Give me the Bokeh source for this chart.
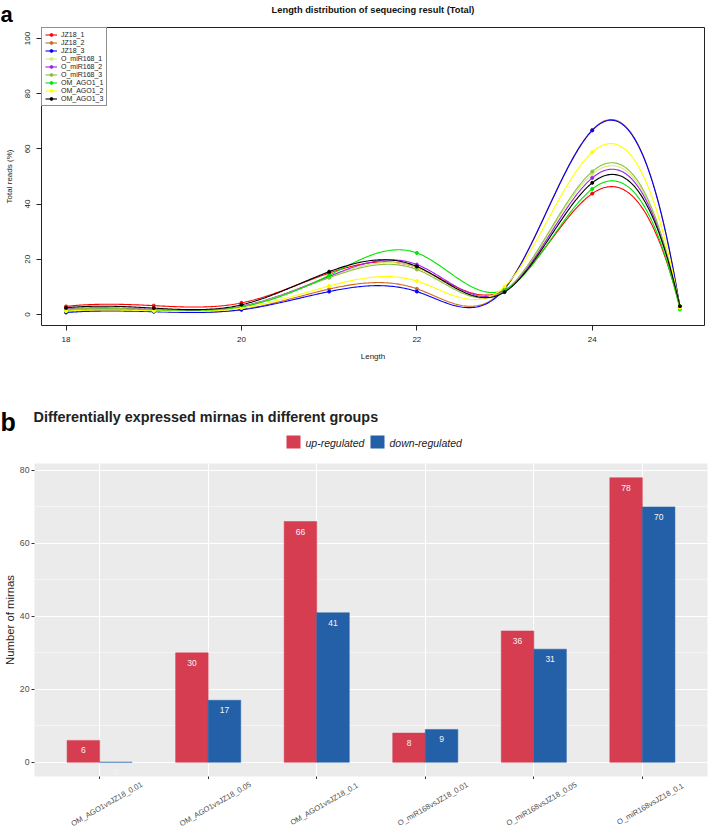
import math
import numpy as np
from bokeh.plotting import figure
from bokeh.layouts import column
from bokeh.models import (Range1d, FixedTicker, Legend, LegendItem, Label, LabelSet,
                          ColumnDataSource, FactorRange, SingleIntervalTicker)
from bokeh.transform import dodge
from bokeh.core.properties import value
from bokeh.embed import file_html
from bokeh.resources import INLINE

# ---------------- panel a data ----------------
lengths = [18, 19, 20, 21, 22, 23, 24, 25]
sample_names = ["JZ18_1", "JZ18_2", "JZ18_3", "O_miR168_1", "O_miR168_2",
                "O_miR168_3", "OM_AGO1_1", "OM_AGO1_2", "OM_AGO1_3"]
jz18_1 = [2.9, 3.2, 4.2, 15.0, 17.0, 8.8, 43.8, 2.6]
jz18_2 = [1.0, 1.2, 1.8, 9.2, 9.3, 9.5, 66.9, 2.6]
jz18_3 = [0.7, 1.0, 1.7, 8.3, 8.3, 9.3, 66.7, 2.6]
o_mir168_1 = [1.6, 1.5, 2.8, 13.6, 17.0, 8.6, 50.8, 2.3]
o_mir168_2 = [2.0, 1.8, 3.0, 13.8, 18.1, 8.4, 49.5, 2.5]
o_mir168_3 = [1.8, 1.7, 2.9, 13.3, 16.3, 8.5, 51.8, 2.4]
om_ago1_1 = [1.3, 1.4, 2.7, 14.2, 22.3, 8.9, 45.5, 1.8]
om_ago1_2 = [1.2, 1.3, 2.3, 10.3, 12.1, 10.1, 58.8, 2.4]
om_ago1_3 = [2.4, 2.3, 3.5, 15.5, 17.4, 8.1, 47.7, 3.0]
sample_colors = ["#FF0000", "#CD6A1E", "#0000FF", "#D2EE78", "#A020F0",
                 "#8DBE3C", "#00E600", "#FFFF00", "#000000"]
x_ticks_a = [18, 20, 22, 24]
y_ticks_a = [0, 20, 40, 60, 80, 100]
title_a = "Length distribution of sequecing result (Total)"

# ---------------- panel b data ----------------
groups = ["OM_AGO1vsJZ18_0.01", "OM_AGO1vsJZ18_0.05", "OM_AGO1vsJZ18_0.1",
          "O_miR168vsJZ18_0.01", "O_miR168vsJZ18_0.05", "O_miR168vsJZ18_0.1"]
up_regulated = [6, 30, 66, 8, 36, 78]
down_regulated = [0, 17, 41, 9, 31, 70]
regulation = ["up-regulated", "down-regulated"]
up_color = "#D63D51"
down_color = "#2360A8"
title_b = "Differentially expressed mirnas in different groups"

FONT = "Liberation Sans"
W = 709


def fmm_spline(xs, ys, n=400):
    """Cubic interpolating spline (Forsythe-Malcolm-Moler end conditions), as R's spline()."""
    x = np.asarray(xs, float)
    y = np.asarray(ys, float)
    m = len(x)
    h = np.diff(x)
    A = np.zeros((m, m))
    r = np.zeros(m)
    for i in range(1, m - 1):
        A[i, i - 1] = h[i - 1]
        A[i, i] = 2 * (h[i - 1] + h[i])
        A[i, i + 1] = h[i]
        r[i] = 6 * ((y[i + 1] - y[i]) / h[i] - (y[i] - y[i - 1]) / h[i - 1])

    def dd3(xx, yy):
        d1 = np.diff(yy) / np.diff(xx)
        d2 = np.diff(d1) / (xx[2:] - xx[:-2])
        d3 = np.diff(d2) / (xx[3:] - xx[:-3])
        return d3[0]
    A[0, 0] = -1.0
    A[0, 1] = 1.0
    r[0] = 6 * h[0] * dd3(x[:4], y[:4])
    A[-1, -2] = -1.0
    A[-1, -1] = 1.0
    r[-1] = 6 * h[-1] * dd3(x[-4:], y[-4:])
    M = np.linalg.solve(A, r)
    t = np.linspace(x[0], x[-1], n)
    idx = np.clip(np.searchsorted(x, t, side="right") - 1, 0, m - 2)
    hh = h[idx]
    a = (x[idx + 1] - t) / hh
    b = (t - x[idx]) / hh
    s = a * y[idx] + b * y[idx + 1] + ((a ** 3 - a) * M[idx] + (b ** 3 - b) * M[idx + 1]) * hh ** 2 / 6
    return t, s


def strip(height, x_range=None, y_range=None, left=0, right=0):
    """Axis-less strip used for headings and rotated category labels."""
    f = figure(width=W, height=height,
               x_range=x_range if x_range is not None else Range1d(0, W),
               y_range=y_range if y_range is not None else Range1d(height, 0),
               x_axis_location=None, y_axis_location=None,
               output_backend="svg", toolbar_location=None, frame_align=False,
               min_border_left=left, min_border_right=right, min_border_top=0, min_border_bottom=0)
    f.grid.visible = False
    f.outline_line_color = None
    return f


# ================= heading a =================
hA = strip(26)
hA.add_layout(Label(x=0, y=14, text="a", text_font=FONT, text_font_size="22px",
                    text_font_style="bold", text_baseline="alphabetic", text_color="#000000"))
hA.add_layout(Label(x=372.5, y=9, text=title_a, text_font=FONT, text_font_size="9.3px",
                    text_font_style="bold", text_align="center", text_baseline="middle",
                    text_color="#111111"))

# ================= figure a =================
p1 = figure(width=W, height=352, x_range=Range1d(17.72, 25.28), y_range=Range1d(-4, 104),
            output_backend="svg", toolbar_location=None, frame_align=False,
            min_border_left=41, min_border_right=5, min_border_top=1, min_border_bottom=53)
p1.grid.visible = False
p1.outline_line_color = "#222222"
p1.outline_line_width = 1
p1.outline_line_alpha = 1

p1.xaxis.ticker = FixedTicker(ticks=x_ticks_a)
p1.yaxis.ticker = FixedTicker(ticks=y_ticks_a)
p1.xaxis.axis_label = "Length"
p1.yaxis.axis_label = "Total reads (%)"
for ax in (p1.xaxis, p1.yaxis):
    ax.axis_line_color = None
    ax.minor_tick_line_color = None
    ax.major_tick_out = 5
    ax.major_tick_in = 0
    ax.major_tick_line_color = "#222222"
    ax.major_label_text_font = FONT
    ax.major_label_text_font_size = "8px"
    ax.major_label_text_color = "#222222"
    ax.axis_label_text_font = FONT
    ax.axis_label_text_font_size = "8px"
    ax.axis_label_text_font_style = "normal"
    ax.axis_label_text_color = "#222222"
p1.xaxis.major_label_standoff = 6
p1.xaxis.axis_label_standoff = 7
p1.yaxis.major_label_orientation = "vertical"
p1.yaxis.major_label_standoff = 6
p1.yaxis.axis_label_standoff = 9

series_a = [jz18_1, jz18_2, jz18_3, o_mir168_1, o_mir168_2, o_mir168_3,
            om_ago1_1, om_ago1_2, om_ago1_3]
legend_items = []
for name, vals, col in zip(sample_names, series_a, sample_colors):
    xs, ys = fmm_spline(lengths, vals)
    ln = p1.line(xs, ys, line_color=col, line_width=1.1)
    sc = p1.scatter(lengths, vals, size=3, fill_color=col, line_color=col)
    legend_items.append(LegendItem(label=name, renderers=[ln, sc]))

leg1 = Legend(items=legend_items, location="top_left", margin=0, padding=3, spacing=1,
              label_height=7, glyph_height=7, glyph_width=12, label_standoff=4,
              label_text_font=FONT, label_text_font_size="7px", label_text_color="#222222",
              border_line_color="#222222", border_line_width=1, background_fill_alpha=1)
p1.add_layout(leg1)

# ================= heading b (title and key) =================
hB = strip(85)
hB.add_layout(Label(x=0, y=43, text="b", text_font=FONT, text_font_size="25px",
                    text_font_style="bold", text_baseline="alphabetic", text_color="#000000"))
hB.add_layout(Label(x=33, y=38, text=title_b, text_font=FONT, text_font_size="14.4px",
                    text_font_style="bold", text_baseline="alphabetic", text_color="#222222"))
key_left = [286, 370]
for kx, label, col in zip(key_left, regulation, [up_color, down_color]):
    hB.quad(left=kx, right=kx + 14, top=57, bottom=70, fill_color=col, line_color=None)
    hB.add_layout(Label(x=kx + 19, y=64, text=label, text_font=FONT, text_font_size="10.5px",
                        text_font_style="italic", text_baseline="middle", text_color="#222222"))

# ================= figure b =================
p2 = figure(width=W, height=316,
            x_range=FactorRange(*groups, range_padding=0.1, range_padding_units="absolute"),
            y_range=Range1d(-3.9, 81.9),
            output_backend="svg", toolbar_location=None, frame_align=False,
            min_border_left=33, min_border_right=2, min_border_top=0, min_border_bottom=3)
p2.background_fill_color = "#EBEBEB"
p2.outline_line_color = None

src = ColumnDataSource(dict(
    groups=groups, up=up_regulated, down=down_regulated,
    up_text=[str(v) for v in up_regulated],
    down_text=[str(v) for v in down_regulated]))

r_up = p2.vbar(x=dodge("groups", -0.15, range=p2.x_range), top="up", width=0.3, source=src,
               fill_color=up_color, line_color=up_color, line_width=0.5)
r_down = p2.vbar(x=dodge("groups", 0.15, range=p2.x_range), top="down", width=0.3, source=src,
                 fill_color=down_color, line_color=down_color, line_width=0.5)

for key, txt, off in (("up", "up_text", -0.15), ("down", "down_text", 0.15)):
    p2.add_layout(LabelSet(x=dodge("groups", off, range=p2.x_range), y=key, text=txt, source=src,
                           y_offset=-10, text_align="center", text_baseline="middle",
                           text_font=value(FONT), text_font_size="8.5px", text_color="#F4F4F4"))

p2.yaxis.ticker = SingleIntervalTicker(interval=20, num_minor_ticks=2)
p2.ygrid.grid_line_color = "white"
p2.ygrid.grid_line_width = 1.1
p2.ygrid.minor_grid_line_color = "white"
p2.ygrid.minor_grid_line_width = 0.5
p2.xgrid.grid_line_color = "white"
p2.xgrid.grid_line_width = 1.1
for ax in (p2.xaxis, p2.yaxis):
    ax.axis_line_color = None
    ax.minor_tick_line_color = None
    ax.major_tick_out = 3
    ax.major_tick_in = 0
    ax.major_tick_line_color = "#333333"
p2.xaxis.major_label_text_font_size = "0px"
p2.xaxis.major_label_text_color = None
p2.xaxis.major_label_standoff = 0
p2.yaxis.major_label_text_font = FONT
p2.yaxis.major_label_text_font_size = "8.7px"
p2.yaxis.major_label_text_color = "#4D4D4D"
p2.yaxis.major_label_standoff = 1
p2.yaxis.axis_label = "Number of mirnas"
p2.yaxis.axis_label_text_font = FONT
p2.yaxis.axis_label_text_font_size = "11.3px"
p2.yaxis.axis_label_text_font_style = "normal"
p2.yaxis.axis_label_text_color = "#222222"
p2.yaxis.axis_label_standoff = 1

# ================= rotated category labels =================
fB = strip(49, x_range=p2.x_range, y_range=Range1d(0, 49), left=33, right=2)
fB.add_layout(LabelSet(x="groups", y=24.5, text="groups", source=ColumnDataSource(dict(groups=groups)),
                       x_offset=8, angle=math.pi / 6, text_align="center", text_baseline="middle",
                       text_font=value(FONT), text_font_size="7.6px", text_color="#4D4D4D"))

layout = column(hA, p1, hB, p2, fB, spacing=0)
open("out.html", "w").write(file_html(layout, INLINE))
